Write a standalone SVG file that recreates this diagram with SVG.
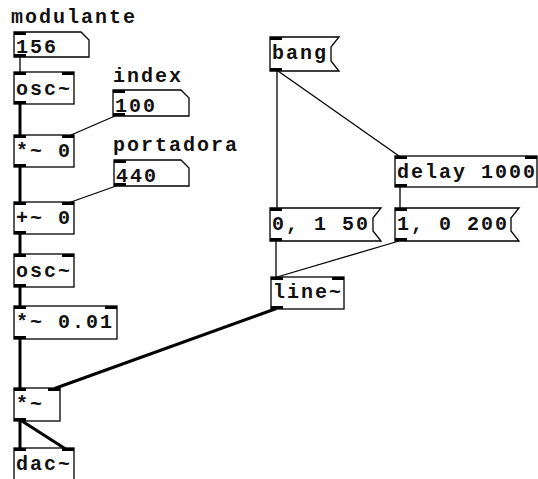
<svg xmlns="http://www.w3.org/2000/svg" width="538" height="479" viewBox="0 0 538 479">
<style>
.box{fill:#fff;stroke:#000;stroke-width:1.3}
.io{fill:#000}
.t{font-family:"Liberation Mono","DejaVu Sans Mono",monospace;font-weight:bold;font-size:20px;letter-spacing:2px;fill:#111}
.sig{stroke:#000;stroke-width:3;fill:none;stroke-linecap:square}
.ctl{stroke:#000;stroke-width:1.3;fill:none}
</style>
<rect width="538" height="479" fill="#fff"/>
<g id="connectors">
<line class="ctl" x1="20" y1="57" x2="20" y2="72"/>
<line class="sig" x1="20" y1="104" x2="20" y2="135"/>
<line class="ctl" x1="115" y1="116" x2="71" y2="135"/>
<line class="sig" x1="20" y1="167" x2="20" y2="202"/>
<line class="ctl" x1="116" y1="186" x2="71" y2="202"/>
<line class="sig" x1="20" y1="234" x2="20" y2="254"/>
<line class="sig" x1="20" y1="287" x2="20" y2="306"/>
<line class="sig" x1="20" y1="339" x2="20" y2="388"/>
<line class="sig" x1="275" y1="309" x2="56" y2="388"/>
<line class="sig" x1="20" y1="421" x2="20" y2="448"/>
<line class="sig" x1="22" y1="421" x2="64" y2="448"/>
<line class="ctl" x1="277" y1="71" x2="277" y2="208"/>
<line class="ctl" x1="278" y1="71" x2="399" y2="156"/>
<line class="ctl" x1="400" y1="187" x2="400" y2="208"/>
<line class="ctl" x1="276" y1="241" x2="276" y2="277"/>
<line class="ctl" x1="399" y1="241" x2="277" y2="277"/>
</g>
<g id="label-modulante"><text class="t" x="11" y="23">modulante</text></g>
<g id="num156">
<polygon class="box" points="14,32 81,32 89,40 89,57 14,57"/>
<rect class="io" x="14" y="32" width="12" height="3"/><rect class="io" x="14" y="54" width="12" height="3"/>
<text class="t" x="16" y="53">156</text>
</g>
<g id="osc1">
<rect class="box" x="14" y="72" width="60" height="32"/>
<rect class="io" x="14" y="72" width="12" height="3"/><rect class="io" x="62" y="72" width="12" height="3"/><rect class="io" x="14" y="101" width="12" height="3"/>
<text class="t" x="16" y="95">osc~</text>
</g>
<g id="label-index"><text class="t" x="113" y="82">index</text></g>
<g id="num100">
<polygon class="box" points="113,90 181,90 189,98 189,116 113,116"/>
<rect class="io" x="113" y="90" width="12" height="3"/><rect class="io" x="113" y="113" width="12" height="3"/>
<text class="t" x="115" y="112">100</text>
</g>
<g id="mul0">
<rect class="box" x="14" y="135" width="60" height="32"/>
<rect class="io" x="14" y="135" width="12" height="3"/><rect class="io" x="62" y="135" width="12" height="3"/><rect class="io" x="14" y="164" width="12" height="3"/>
<text class="t" x="16" y="157">*~ 0</text>
</g>
<g id="label-portadora"><text class="t" x="113" y="151">portadora</text></g>
<g id="num440">
<polygon class="box" points="114,160 181,160 189,168 189,186 114,186"/>
<rect class="io" x="114" y="160" width="12" height="3"/><rect class="io" x="114" y="183" width="12" height="3"/>
<text class="t" x="116" y="182">440</text>
</g>
<g id="add0">
<rect class="box" x="14" y="202" width="60" height="32"/>
<rect class="io" x="14" y="202" width="12" height="3"/><rect class="io" x="62" y="202" width="12" height="3"/><rect class="io" x="14" y="231" width="12" height="3"/>
<text class="t" x="16" y="224">+~ 0</text>
</g>
<g id="osc2">
<rect class="box" x="14" y="254" width="60" height="33"/>
<rect class="io" x="14" y="254" width="12" height="3"/><rect class="io" x="62" y="254" width="12" height="3"/><rect class="io" x="14" y="284" width="12" height="3"/>
<text class="t" x="16" y="277">osc~</text>
</g>
<g id="mul001">
<rect class="box" x="14" y="306" width="103" height="33"/>
<rect class="io" x="14" y="306" width="12" height="3"/><rect class="io" x="105" y="306" width="12" height="3"/><rect class="io" x="14" y="336" width="12" height="3"/>
<text class="t" x="16" y="328">*~ 0.01</text>
</g>
<g id="mul">
<rect class="box" x="14" y="388" width="46" height="33"/>
<rect class="io" x="14" y="388" width="12" height="3"/><rect class="io" x="48" y="388" width="12" height="3"/><rect class="io" x="14" y="418" width="12" height="3"/>
<text class="t" x="16" y="410">*~</text>
</g>
<g id="dac">
<rect class="box" x="14" y="448" width="60" height="40"/>
<rect class="io" x="14" y="448" width="12" height="3"/><rect class="io" x="62" y="448" width="12" height="3"/>
<text class="t" x="16" y="470">dac~</text>
</g>
<g id="bang">
<polygon class="box" points="270,37 339,37 331,47 331,61 339,71 270,71"/>
<rect class="io" x="270" y="37" width="12" height="3"/><rect class="io" x="270" y="68" width="12" height="3"/>
<text class="t" x="272" y="59">bang</text>
</g>
<g id="delay">
<rect class="box" x="395" y="156" width="142" height="31"/>
<rect class="io" x="395" y="156" width="12" height="3"/><rect class="io" x="525" y="156" width="12" height="3"/><rect class="io" x="395" y="184" width="12" height="3"/>
<text class="t" x="397" y="178">delay 1000</text>
</g>
<g id="msg-up">
<polygon class="box" points="270,208 381,208 373,218 373,231 381,241 270,241"/>
<rect class="io" x="270" y="208" width="12" height="3"/><rect class="io" x="270" y="238" width="12" height="3"/>
<text class="t" x="272" y="230">0, 1 50</text>
</g>
<g id="msg-down">
<polygon class="box" points="395,208 519,208 511,218 511,231 519,241 395,241"/>
<rect class="io" x="395" y="208" width="12" height="3"/><rect class="io" x="395" y="238" width="12" height="3"/>
<text class="t" x="397" y="230">1, 0 200</text>
</g>
<g id="line">
<rect class="box" x="271" y="277" width="73" height="32"/>
<rect class="io" x="271" y="277" width="12" height="3"/><rect class="io" x="332" y="277" width="12" height="3"/><rect class="io" x="271" y="306" width="12" height="3"/>
<text class="t" x="273" y="298">line~</text>
</g>
</svg>
